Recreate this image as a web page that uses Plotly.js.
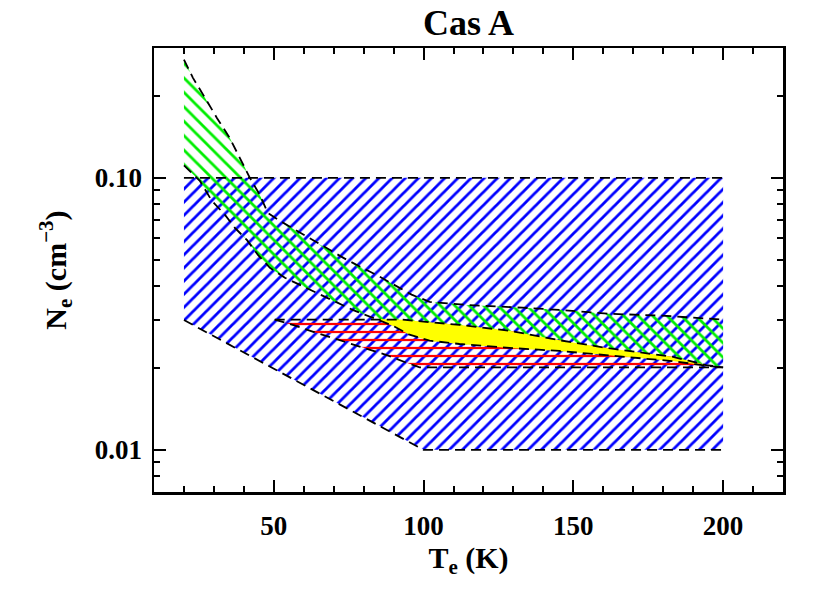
<!DOCTYPE html>
<html>
<head>
<meta charset="utf-8">
<script src="https://cdn.plot.ly/plotly-3.0.1.min.js"></script>
<style>
  body { margin: 0; background: #fff; }
  #chart { width: 830px; height: 593px; }
</style>
</head>
<body>
<div id="chart"></div>
<script>
// Cas A: allowed (Te, Ne) regions

// blue band
var blueT = [20, 100, 200];
var blueUpper = [0.1, 0.1, 0.1];
var blueLower = [0.03, 0.01, 0.01];

// green band
var greenUpT = [20, 23, 27, 31, 35.3, 39.3, 42, 45.3, 48, 52, 57.7, 64.3, 74.3, 84.7, 96, 102, 114.3, 133, 145.3, 163, 181, 200];
var greenUpN = [0.272, 0.233, 0.197, 0.166, 0.140, 0.115, 0.100, 0.0866, 0.0743, 0.0695, 0.0638, 0.0577, 0.0500, 0.0437, 0.0372, 0.0350, 0.0341, 0.0333, 0.0327, 0.0316, 0.0311, 0.0301];
var greenLoT = [20, 25.3, 29.3, 33.7, 37, 41, 44.7, 48.7, 53.7, 59.3, 65.3, 71, 76.3, 83, 89.7, 95.3, 102, 112, 128.7, 145.3, 161, 183, 194.3, 200];
var greenLoN = [0.111, 0.0975, 0.0823, 0.0731, 0.0655, 0.0591, 0.0521, 0.0467, 0.0429, 0.0401, 0.0371, 0.0347, 0.0327, 0.0306, 0.0286, 0.0265, 0.0252, 0.0245, 0.0237, 0.0231, 0.0223, 0.0212, 0.0204, 0.0201];

// red band
var redUpT = [50.3, 93, 112, 128.7, 145.3, 161, 183, 194.3, 200];
var redUpN = [0.0301, 0.0301, 0.0288, 0.0274, 0.0253, 0.0237, 0.0220, 0.0205, 0.0201];
var redLoT = [50.3, 56.3, 64.3, 72, 80.3, 87.7, 94.3, 98.7, 200];
var redLoN = [0.0301, 0.0288, 0.0269, 0.0253, 0.0237, 0.0223, 0.0209, 0.0201, 0.0201];

// overlap of green and red
var yelTopT = [84, 93, 112, 128.7, 145.3, 161, 183, 194.3, 200];
var yelTopN = [0.0303, 0.0301, 0.0288, 0.0274, 0.0253, 0.0237, 0.0220, 0.0205, 0.0201];
var yelBotT = [84, 89.7, 95.3, 102, 112, 128.7, 145.3, 161, 183, 194.3, 200];
var yelBotN = [0.0303, 0.0286, 0.0265, 0.0252, 0.0245, 0.0237, 0.0231, 0.0223, 0.0212, 0.0204, 0.0201];

var xTicks = [50, 100, 150, 200];
var yTicks = [0.01, 0.1];
var yTickText = ['0.01', '0.10'];
var yMinor = [0.007, 0.008, 0.009, 0.02, 0.03, 0.04, 0.05, 0.06, 0.07, 0.08, 0.09, 0.2, 0.3];

var serif = '"Liberation Serif"';

function poly(tUp, nUp, tLo, nLo) {
  return {
    x: tUp.concat(tLo.slice().reverse()),
    y: nUp.concat(nLo.slice().reverse())
  };
}

function hatch(p, shape, color, size, solidity) {
  return {
    x: p.x, y: p.y,
    type: 'scatter', mode: 'none',
    fill: 'toself',
    fillcolor: 'rgba(0,0,0,0)',
    fillpattern: {shape: shape, fgcolor: color, bgcolor: 'rgba(0,0,0,0)', size: size, solidity: solidity, fillmode: 'replace'},
    hoverinfo: 'skip', showlegend: false
  };
}

function dashed(x, y) {
  return {
    x: x, y: y,
    type: 'scatter', mode: 'lines',
    line: {color: '#000000', width: 1.8, dash: '10px,6px'},
    hoverinfo: 'skip', showlegend: false
  };
}

var yel = poly(yelTopT, yelTopN, yelBotT, yelBotN);
let data = [
  hatch(poly(blueT, blueUpper, blueT, blueLower), '/', '#0000ff', 9.3, 0.3),
  hatch(poly(greenUpT, greenUpN, greenLoT, greenLoN), '\\', '#00ee00', 10.2, 0.27),
  hatch(poly(redUpT, redUpN, redLoT, redLoN), '-', '#ff0000', 8, 0.28),
  {
    x: yel.x, y: yel.y,
    type: 'scatter', mode: 'none', fill: 'toself', fillcolor: '#ffff00',
    hoverinfo: 'skip', showlegend: false
  },
  dashed(blueT, blueUpper),
  dashed(blueT, blueLower),
  dashed(greenUpT, greenUpN),
  dashed(greenLoT, greenLoN),
  dashed(redUpT, redUpN),
  dashed(redLoT, redLoN)
];

let layout = {
  width: 830,
  height: 593,
  margin: {l: 154, r: 47, t: 48, b: 101},
  paper_bgcolor: '#ffffff',
  plot_bgcolor: '#ffffff',
  showlegend: false,
  font: {family: serif, color: '#000000'},
  title: {
    text: '<b>Cas A</b>',
    font: {family: serif, size: 36, color: '#000000'},
    x: 0.5, xref: 'paper',
    y: 0.962, yref: 'container', yanchor: 'middle'
  },
  xaxis: {
    range: [10, 220],
    tickmode: 'array',
    tickvals: xTicks,
    ticktext: xTicks.map(function (v) { return '<b>' + v + '</b>'; }),
    ticks: 'inside', ticklen: 12, tickwidth: 2, tickcolor: '#000000',
    ticklabelstandoff: 8,
    showline: true, linewidth: 2.5, linecolor: '#000000', mirror: 'allticks',
    showgrid: false, zeroline: false,
    minor: {dtick: 10, tick0: 0, ticks: 'inside', ticklen: 6, tickwidth: 2, tickcolor: '#000000', showgrid: false},
    tickfont: {family: serif, size: 27, color: '#000000'},
    title: {
      text: '<b>T<sub>e</sub> (K)</b>',
      font: {family: serif, size: 30, color: '#000000'},
      standoff: 6
    }
  },
  yaxis: {
    type: 'log',
    range: [Math.log10(0.007), Math.log10(0.3)],
    tickmode: 'array',
    tickvals: yTicks,
    ticktext: yTickText.map(function (s) { return '<b>' + s + '</b>'; }),
    ticks: 'inside', ticklen: 12, tickwidth: 2, tickcolor: '#000000',
    ticklabelstandoff: 4,
    showline: true, linewidth: 2.5, linecolor: '#000000', mirror: 'allticks',
    showgrid: false, zeroline: false,
    minor: {tickmode: 'array', tickvals: yMinor, ticks: 'inside', ticklen: 6, tickwidth: 2, tickcolor: '#000000', showgrid: false},
    tickfont: {family: serif, size: 27, color: '#000000'},
    title: {
      text: '<b>N<sub>e</sub> (cm<sup>\u22123</sup>)</b>',
      font: {family: serif, size: 30, color: '#000000'},
      standoff: 20
    }
  }
};

Plotly.newPlot('chart', data, layout, {staticPlot: true});
</script>
</body>
</html>
